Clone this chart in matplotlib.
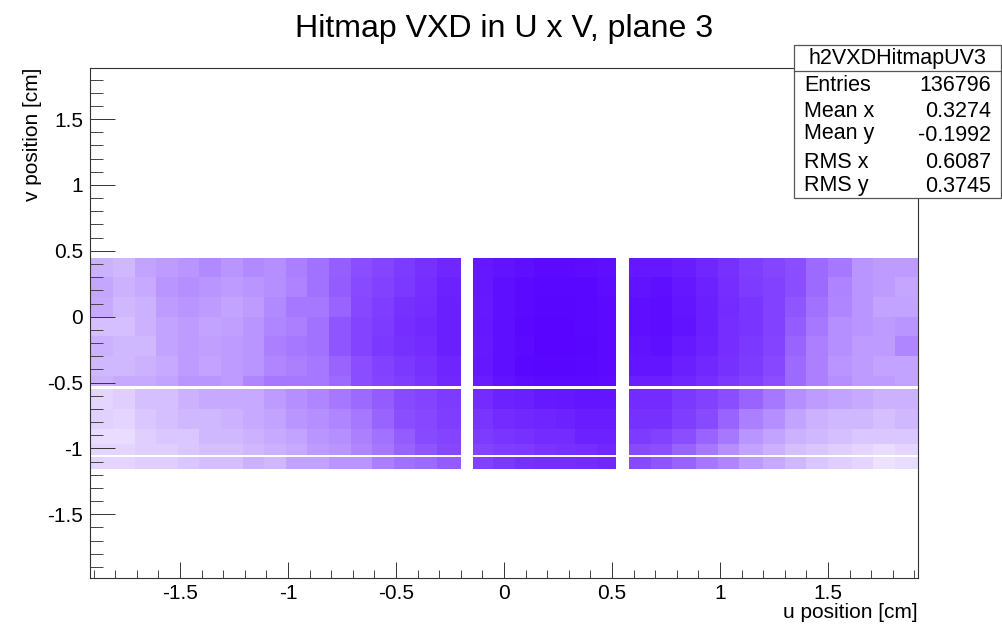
import numpy as np
import matplotlib
matplotlib.use("Agg")
import matplotlib.pyplot as plt
from matplotlib.colors import LinearSegmentedColormap
from matplotlib.patches import Rectangle
from matplotlib.ticker import MultipleLocator

plt.rcParams['font.family'] = ['Liberation Sans', 'DejaVu Sans']

W, H = 1002, 626

# fill fraction of the hit map, read by eye per cell
u_left = [-1.917, -1.81, -1.71, -1.61, -1.51, -1.41, -1.31, -1.21, -1.11, -1.01,
          -0.91, -0.81, -0.71, -0.61, -0.51, -0.41, -0.31, -0.199]
u_mid = [-0.144, -0.05, 0.05, 0.14, 0.24, 0.33, 0.43, 0.519]
u_right = [0.579, 0.68, 0.78, 0.89, 0.99, 1.09, 1.2, 1.3, 1.4, 1.5, 1.61, 1.71, 1.81, 1.917]
v_upper = [0.445, 0.3, 0.15, 0.0, -0.15, -0.3, -0.45, -0.53]
v_lower = [-0.55, -0.7, -0.85, -0.97, -1.05]
v_bottom = [-1.065, -1.155]

density_left = [
    [.22, .20, .26, .28, .30, .33, .30, .33, .32, .36, .40, .45, .50, .55, .62, .68, .75],
    [.25, .22, .24, .30, .32, .30, .28, .30, .32, .35, .40, .46, .52, .58, .64, .70, .78],
    [.24, .20, .22, .28, .30, .28, .26, .28, .33, .38, .38, .44, .54, .60, .68, .72, .80],
    [.18, .18, .22, .26, .28, .26, .27, .30, .34, .36, .40, .48, .56, .62, .70, .74, .80],
    [.22, .20, .20, .26, .28, .27, .28, .30, .36, .38, .40, .48, .56, .64, .68, .72, .80],
    [.20, .20, .22, .24, .28, .26, .28, .30, .34, .36, .38, .44, .50, .58, .64, .68, .76],
    [.22, .24, .24, .26, .30, .30, .28, .34, .38, .38, .38, .42, .50, .56, .60, .66, .74],
    [.12, .14, .18, .18, .22, .24, .24, .24, .28, .32, .34, .38, .42, .46, .52, .56, .62],
    [.13, .12, .16, .18, .20, .20, .22, .24, .26, .30, .32, .34, .38, .44, .50, .54, .60],
    [.10, .10, .14, .16, .16, .20, .20, .22, .24, .26, .30, .32, .36, .40, .46, .52, .56],
    [.12, .12, .14, .14, .16, .18, .18, .20, .22, .24, .28, .30, .34, .38, .44, .48, .54],
    [.12, .12, .14, .14, .16, .18, .18, .22, .20, .26, .26, .30, .30, .36, .40, .42, .46],
]
density_mid = [
    [.85, .88, .90, .93, .93, .92, .90],
    [.85, .90, .93, .95, .95, .95, .92],
    [.84, .90, .94, .96, .96, .95, .93],
    [.85, .90, .95, .97, .97, .95, .93],
    [.84, .90, .94, .97, .97, .96, .94],
    [.85, .90, .95, .96, .96, .95, .94],
    [.82, .88, .92, .93, .94, .93, .92],
    [.72, .78, .80, .84, .85, .86, .86],
    [.66, .72, .74, .76, .78, .82, .82],
    [.62, .66, .68, .72, .72, .78, .78],
    [.56, .60, .62, .66, .68, .70, .74],
    [.58, .64, .68, .70, .70, .72, .74],
]
density_right = [
    [.85, .85, .82, .75, .68, .60, .55, .50, .42, .38, .30, .28, .28],
    [.88, .90, .85, .78, .70, .62, .58, .50, .42, .35, .30, .28, .25],
    [.90, .92, .86, .80, .72, .66, .58, .48, .40, .34, .30, .26, .26],
    [.90, .92, .88, .80, .70, .66, .58, .46, .38, .32, .30, .28, .30],
    [.88, .90, .84, .78, .70, .64, .56, .44, .36, .32, .28, .28, .34],
    [.86, .86, .80, .74, .68, .62, .54, .42, .36, .30, .28, .26, .26],
    [.80, .80, .76, .70, .64, .58, .50, .42, .36, .32, .28, .28, .26],
    [.72, .72, .64, .58, .50, .44, .38, .32, .28, .26, .24, .22, .22],
    [.68, .68, .60, .52, .44, .36, .32, .26, .22, .20, .20, .18, .20],
    [.62, .58, .50, .44, .38, .30, .26, .22, .20, .18, .16, .16, .16],
    [.52, .50, .44, .38, .32, .26, .22, .18, .16, .14, .12, .10, .12],
    [.52, .48, .44, .38, .34, .28, .24, .20, .16, .14, .12, .08, .10],
]

stat_names = ["Entries", "Mean x", "Mean y", "RMS x", "RMS y"]
stat_values = ["136796", "0.3274", "-0.1992", "0.6087", "0.3745"]
tick_vals = [-1.5, -1, -0.5, 0, 0.5, 1, 1.5]
tick_labels = ["-1.5", "-1", "-0.5", "0", "0.5", "1", "1.5"]

cmap = LinearSegmentedColormap.from_list("hits", [(0, "#ffffff"), (0.5, "#8a4dff"), (1, "#5500ff")])

fig = plt.figure(figsize=(W / 100, H / 100), dpi=100)
ax = fig.add_axes([90 / W, 1 - 578 / H, (918 - 90) / W, (578 - 68) / H])

#draw each sensor block, the white strips stay empty
for u_edges, density in [(u_left, density_left), (u_mid, density_mid), (u_right, density_right)]:
    d = np.array(density)
    ax.pcolormesh(u_edges, v_upper, d[:7], cmap=cmap, vmin=0, vmax=1)
    ax.pcolormesh(u_edges, v_lower, d[7:11], cmap=cmap, vmin=0, vmax=1)
    ax.pcolormesh(u_edges, v_bottom, d[11:], cmap=cmap, vmin=0, vmax=1)

ax.set_xlim(-1.917, 1.917)
ax.set_ylim(-1.984, 1.888)
ax.set_xticks(tick_vals, tick_labels)
ax.set_yticks(tick_vals, tick_labels)
ax.xaxis.set_minor_locator(MultipleLocator(0.1))
ax.yaxis.set_minor_locator(MultipleLocator(0.1))
ax.tick_params(axis='x', which='major', direction='in', length=11.5, width=0.7, color='#333333', labelsize=15, pad=4)
ax.tick_params(axis='x', which='minor', direction='in', length=5.8, width=0.7, color='#444444')
ax.tick_params(axis='y', which='major', direction='in', length=18, width=0.7, color='#333333', labelsize=15, pad=5)
ax.tick_params(axis='y', which='minor', direction='in', length=9.4, width=0.7, color='#444444')
for s in ax.spines.values():
    s.set_linewidth(0.8)
    s.set_color('#333333')

fig.text(504.5 / W, 1 - 37 / H, "Hitmap VXD in U x V, plane 3", fontsize=23.1, ha='center', va='baseline')
fig.text(918 / W, 1 - 618 / H, "u position [cm]", fontsize=15, ha='right', va='baseline')
fig.text(33 / W, 1 - 68 / H, "v position [cm]", fontsize=15, rotation=90, ha='center', va='top')

# stats box
fig.add_artist(Rectangle((794 / W, 1 - 198 / H), 207 / W, 153 / H, transform=fig.transFigure,
                         facecolor='white', edgecolor='#555555', linewidth=0.9, zorder=5))
fig.add_artist(plt.Line2D([794 / W, 1001 / W], [1 - 71 / H, 1 - 71 / H], color='#555555', linewidth=0.9, zorder=6))
fig.text(897.5 / W, 1 - 64 / H, "h2VXDHitmapUV3", fontsize=15.5, ha='center', va='baseline', zorder=7)
name_y = [91, 117, 139, 168, 191]
value_y = [91, 117, 141, 168, 192]
for name, value, y1, y2 in zip(stat_names, stat_values, name_y, value_y):
    fig.text(804 / W, 1 - y1 / H, name, fontsize=15.5, ha='left', va='baseline', zorder=7)
    fig.text(991 / W, 1 - y2 / H, value, fontsize=15.5, ha='right', va='baseline', zorder=7)

fig.savefig("out.png", dpi=100)
